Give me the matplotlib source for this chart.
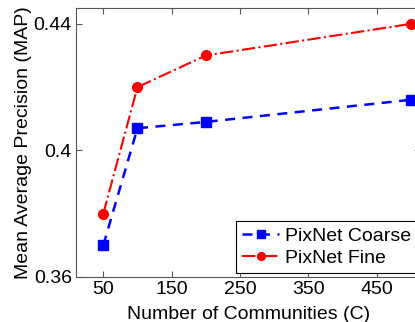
import numpy as np
import matplotlib.pyplot as plt

communities = [50, 100, 200, 500]
coarse_map = [0.370, 0.407, 0.409, 0.416]
fine_map = [0.380, 0.420, 0.430, 0.440]

plt.rcParams['font.family'] = ['Liberation Sans', 'DejaVu Sans']

fig = plt.figure(figsize=(4.15, 3.22), dpi=100)
ax = fig.add_axes([0.183, 0.14, 0.83, 0.835])

ax.plot(communities, coarse_map, color='blue', linestyle='--', linewidth=1.8,
        marker='s', markersize=7, dashes=(4, 3), label='PixNet Coarse')
ax.plot(communities, fine_map, color='red', linestyle='-.', linewidth=1.5,
        marker='o', markersize=7, label='PixNet Fine')

ax.set_xlim(10, 514)
ax.set_ylim(0.36, 0.445)
ax.set_xticks([50, 150, 250, 350, 450])
ax.set_yticks([0.36, 0.4, 0.44])
ax.set_yticklabels(['0.36', '0.4', '0.44'])
ax.tick_params(direction='in', top=True, right=True, labelsize=14, length=4,
               color='#555555', pad=3)
for s in ax.spines.values():
    s.set_color('#555555')

ax.set_xlabel('Number of Communities (C)', fontsize=14, labelpad=6)
ax.set_ylabel('Mean Average Precision (MAP)', fontsize=14, labelpad=1)

leg = ax.legend(loc='lower right', fontsize=14, fancybox=False, framealpha=1,
                edgecolor='black', borderpad=0.3, handlelength=1.9,
                handletextpad=0.3, labelspacing=0.25,
                bbox_to_anchor=(0.99, 0.015), borderaxespad=0.0,
                markerscale=0.8)
leg.get_frame().set_linewidth(0.8)

fig.savefig('out.png', dpi=100)
